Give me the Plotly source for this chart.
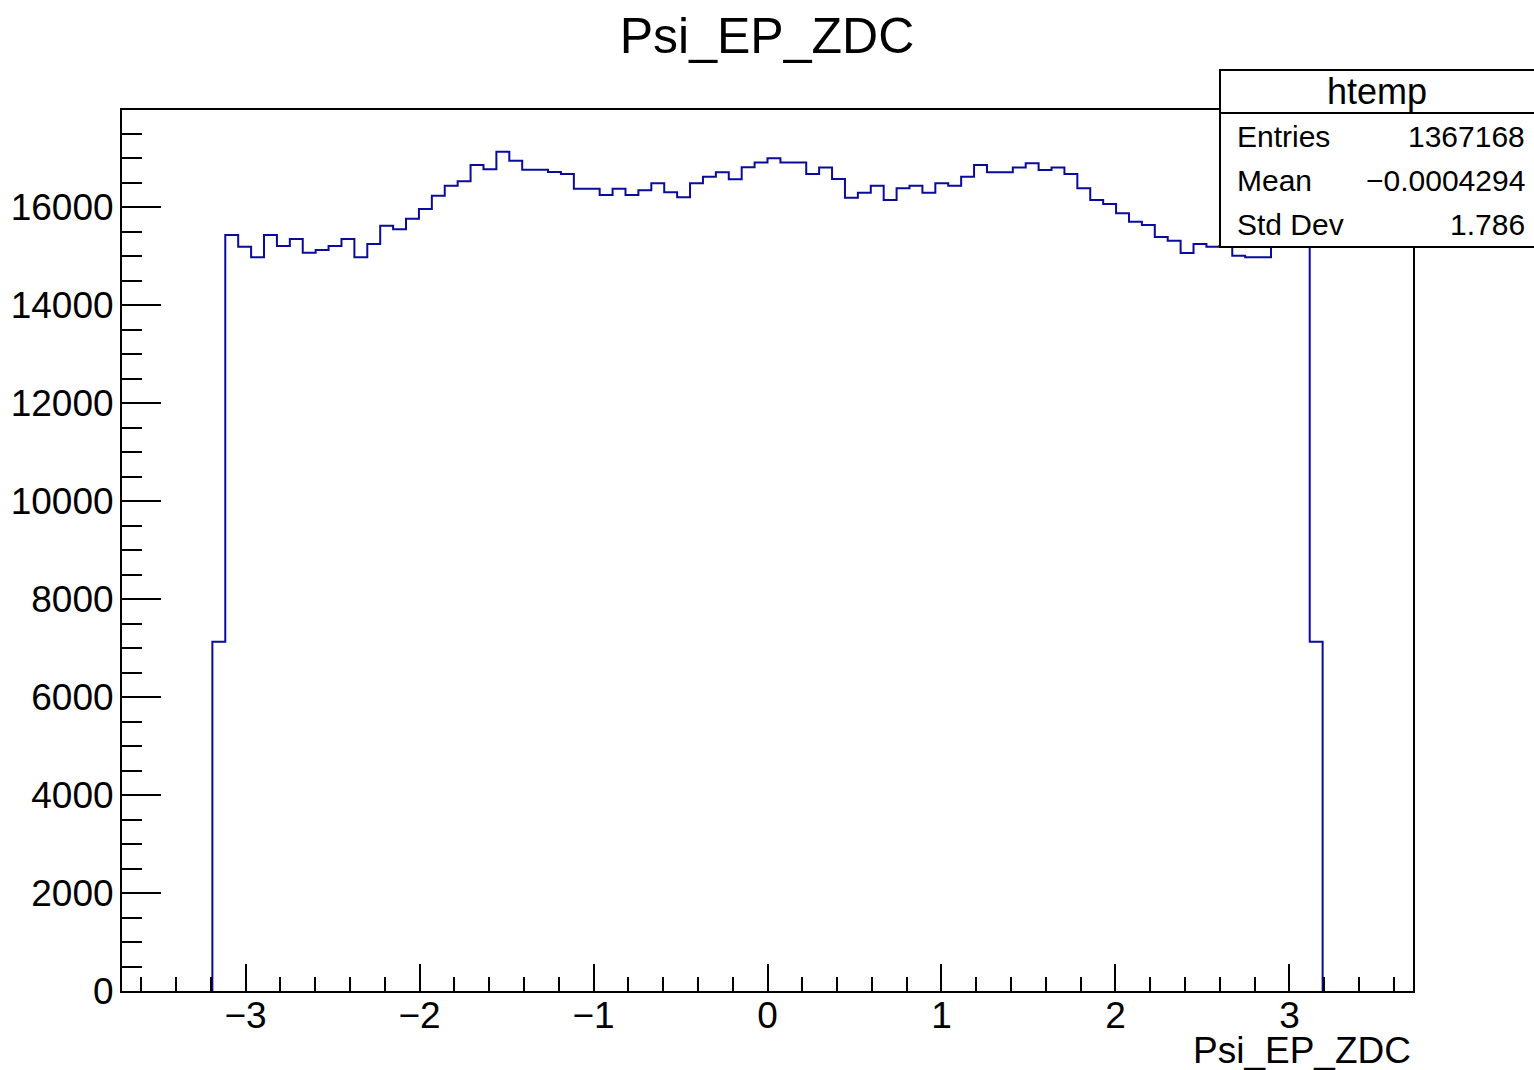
import plotly.graph_objects as go

# ---- data ----
x_min = -3.71
x_max = 3.71
n_bins = 100
first_bin = 7  # index of first non-empty bin
counts = [
    7130, 15430, 15191, 14974, 15430, 15205, 15348, 15069, 15124, 15205,
    15348, 14974, 15246, 15620, 15546, 15763, 15960, 16232, 16436, 16525,
    16859, 16770, 17130, 16946, 16763, 16763, 16715, 16675, 16375, 16375,
    16246, 16375, 16246, 16341, 16484, 16300, 16198, 16484, 16620, 16709,
    16566, 16811, 16906, 16995, 16906, 16906, 16675, 16804, 16573, 16191,
    16293, 16436, 16144, 16382, 16436, 16293, 16484, 16436, 16620, 16859,
    16709, 16709, 16804, 16893, 16757, 16804, 16675, 16382, 16144, 16063,
    15872, 15700, 15634, 15390, 15314, 15062, 15246, 15191, 15200, 15005,
    14974, 14974, 15250, 15300, 15400, 7130,
]
x_tick_vals = [-3, -2, -1, 0, 1, 2, 3]
x_tick_text = ["\u22123", "\u22122", "\u22121", "0", "1", "2", "3"]
y_tick_vals = [0, 2000, 4000, 6000, 8000, 10000, 12000, 14000, 16000]
y_tick_text = [str(v) for v in y_tick_vals]
y_max = 17980

title_text = "Psi_EP_ZDC"
xaxis_title = "Psi_EP_ZDC"
stats_name = "htemp"
stats_labels = ["Entries", "Mean", "Std Dev"]
stats_values = ["1367168", "\u22120.0004294", "1.786"]

# ---- build step outline ----
bw = (x_max - x_min) / n_bins
edges = [x_min + i * bw for i in range(n_bins + 1)]
last_bin = first_bin + len(counts) - 1
xs = [edges[first_bin]] + edges[first_bin:last_bin + 1] + [edges[last_bin + 1]]
ys = [0] + counts + [0]

W, H = 1534, 1070
L, R, T, B = 122, 1413, 110, 991


def px(x):
    return (x - L) / (R - L)


def py(y):
    return (B - y) / (B - T)


FONT = "Liberation Sans, Arial, Helvetica, sans-serif"

fig = go.Figure()
fig.add_trace(go.Scatter(
    x=xs, y=ys, mode="lines", line=dict(shape="hv", color="#0a0a9c", width=2),
    hoverinfo="skip", showlegend=False,
))

axis_common = dict(
    showgrid=False, zeroline=False, showline=True, linecolor="black", linewidth=2,
    mirror=True, ticks="inside", tickcolor="black", tickwidth=2, automargin=False,
    tickfont=dict(family=FONT, size=37, color="black"),
)

fig.update_layout(
    width=W, height=H,
    margin=dict(l=L, r=W - R, t=T, b=H - B, pad=0, autoexpand=False),
    paper_bgcolor="white", plot_bgcolor="white",
    title=dict(text=title_text, x=0.5, xref="container", xanchor="center",
               y=1 - 35 / H, yref="container", yanchor="middle",
               font=dict(family=FONT, size=50, color="black")),
    xaxis=dict(range=[x_min, x_max], tickmode="array", tickvals=x_tick_vals,
               ticktext=x_tick_text, ticklen=27, ticklabelstandoff=-9,
               minor=dict(tickmode="linear", tick0=0, dtick=0.2, ticks="inside",
                          ticklen=14, tickwidth=2, tickcolor="black"),
               **axis_common),
    yaxis=dict(range=[0, y_max], tickmode="array", tickvals=y_tick_vals,
               ticktext=y_tick_text, ticklen=39, ticklabelstandoff=-1,
               minor=dict(tickmode="linear", tick0=0, dtick=500, ticks="inside",
                          ticklen=20, tickwidth=2, tickcolor="black"),
               **axis_common),
)

# x axis title (bottom right, ROOT style)
fig.add_annotation(text=xaxis_title, xref="paper", yref="paper", x=1, y=py(1050),
                   xanchor="right", yanchor="middle", showarrow=False,
                   font=dict(family=FONT, size=37, color="black"))

# stats box
bx0, bx1, by0, by1 = 1220, 1545, 70, 247
fig.add_shape(type="rect", xref="paper", yref="paper",
              x0=px(bx0), x1=px(bx1), y0=py(by1), y1=py(by0),
              line=dict(color="black", width=2), fillcolor="white", layer="above")
fig.add_shape(type="line", xref="paper", yref="paper",
              x0=px(bx0), x1=px(bx1), y0=py(113), y1=py(113),
              line=dict(color="black", width=2), layer="above")
fig.add_annotation(text=stats_name, xref="paper", yref="paper", x=px(1377), y=py(92),
                   xanchor="center", yanchor="middle", showarrow=False,
                   font=dict(family=FONT, size=36, color="black"))
row_y = [137, 181, 225]
for lab, val, ry in zip(stats_labels, stats_values, row_y):
    fig.add_annotation(text=lab, xref="paper", yref="paper", x=px(1235), y=py(ry),
                       xanchor="left", yanchor="middle", showarrow=False,
                       font=dict(family=FONT, size=30, color="black"))
    fig.add_annotation(text=val, xref="paper", yref="paper", x=px(1527), y=py(ry),
                       xanchor="right", yanchor="middle", showarrow=False,
                       font=dict(family=FONT, size=30, color="black"))

fig.write_html("out.html")
